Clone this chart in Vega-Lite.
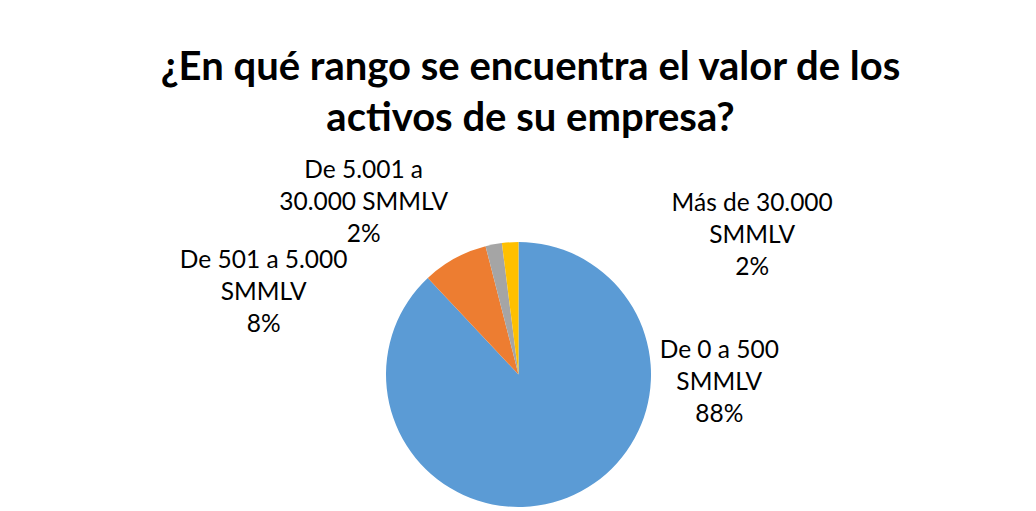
{
  "$schema": "https://vega.github.io/schema/vega-lite/v6.json",
  "width": 265,
  "height": 265,
  "autosize": {"type": "none"},
  "padding": {"left": 386, "top": 242, "right": 385, "bottom": 4},
  "background": "white",
  "config": {"view": {"stroke": null}},
  "title": {
    "text": ["¿En qué rango se encuentra el valor de los", "activos de su empresa?"],
    "font": "Lato",
    "fontSize": 40,
    "fontWeight": "bold",
    "color": "#000000",
    "lineHeight": 51,
    "frame": "group",
    "anchor": "middle",
    "dx": 12,
    "offset": -57
  },
  "data": {
    "values": [
      {"categoria": "De 0 a 500 SMMLV", "valor": 88, "orden": 1, "etiqueta": "De 0 a 500\nSMMLV\n88%"},
      {"categoria": "De 501 a 5.000 SMMLV", "valor": 8, "orden": 2, "etiqueta": "De 501 a 5.000\nSMMLV\n8%"},
      {"categoria": "De 5.001 a 30.000 SMMLV", "valor": 2, "orden": 3, "etiqueta": "De 5.001 a\n30.000 SMMLV\n2%"},
      {"categoria": "Más de 30.000 SMMLV", "valor": 2, "orden": 4, "etiqueta": "Más de 30.000\nSMMLV\n2%"}
    ]
  },
  "encoding": {
    "theta": {"field": "valor", "type": "quantitative", "stack": true},
    "order": {"field": "orden", "type": "quantitative"}
  },
  "layer": [
    {
      "mark": {"type": "arc"},
      "encoding": {
        "color": {
          "field": "categoria",
          "type": "nominal",
          "scale": {
            "domain": ["De 0 a 500 SMMLV", "De 501 a 5.000 SMMLV", "De 5.001 a 30.000 SMMLV", "Más de 30.000 SMMLV"],
            "range": ["#5B9BD5", "#ED7D31", "#A5A5A5", "#FFC000"]
          },
          "legend": null
        }
      }
    },
    {
      "mark": {"type": "text", "radius": 132.5, "dx": 152, "dy": -147, "font": "Lato", "fontSize": 24.5, "lineHeight": 32, "lineBreak": "\n", "align": "center", "baseline": "middle", "color": "#000000"},
      "encoding": {"text": {"condition": {"test": "datum.orden === 1", "field": "etiqueta"}, "value": ""}}
    },
    {
      "mark": {"type": "text", "radius": 132.5, "dx": -191, "dy": 3, "font": "Lato", "fontSize": 24.5, "lineHeight": 32, "lineBreak": "\n", "align": "center", "baseline": "middle", "color": "#000000"},
      "encoding": {"text": {"condition": {"test": "datum.orden === 2", "field": "etiqueta"}, "value": ""}}
    },
    {
      "mark": {"type": "text", "radius": 132.5, "dx": -130, "dy": -73, "font": "Lato", "fontSize": 24.5, "lineHeight": 32, "lineBreak": "\n", "align": "center", "baseline": "middle", "color": "#000000"},
      "encoding": {"text": {"condition": {"test": "datum.orden === 3", "field": "etiqueta"}, "value": ""}}
    },
    {
      "mark": {"type": "text", "radius": 132.5, "dx": 242, "dy": -38, "font": "Lato", "fontSize": 24.5, "lineHeight": 32, "lineBreak": "\n", "align": "center", "baseline": "middle", "color": "#000000"},
      "encoding": {"text": {"condition": {"test": "datum.orden === 4", "field": "etiqueta"}, "value": ""}}
    }
  ]
}
